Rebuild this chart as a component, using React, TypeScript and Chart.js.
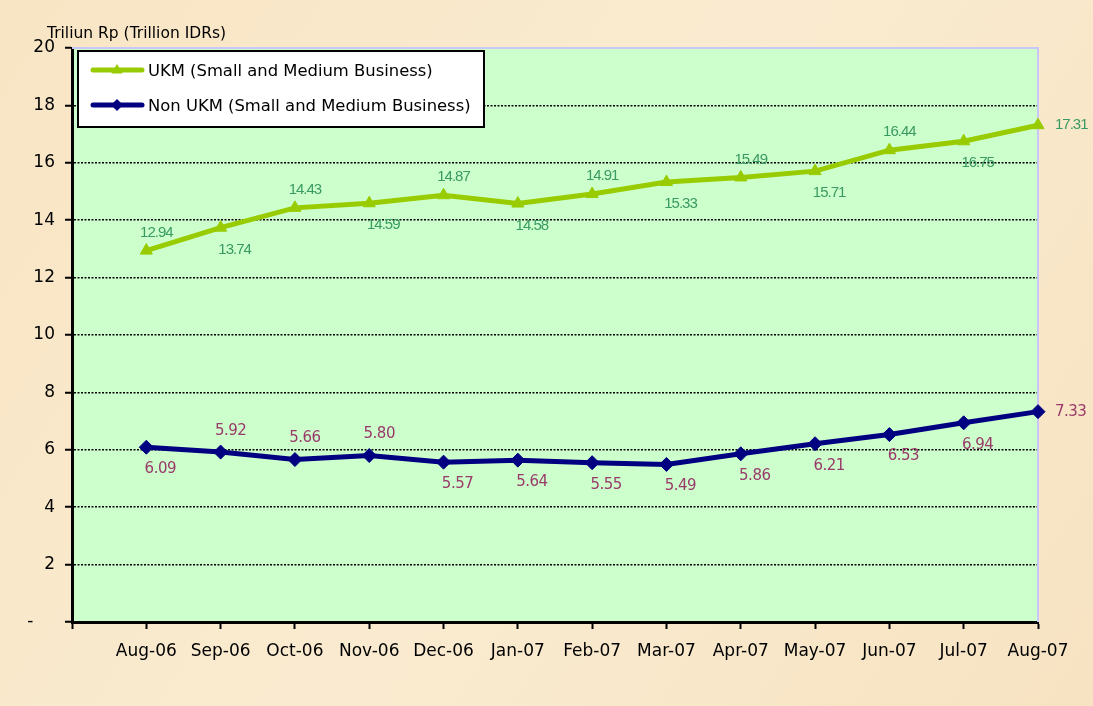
import React, { useEffect, useRef } from "react";
import { Chart, registerables } from "chart.js";

Chart.register(...registerables);

const categories = ["", "Aug-06", "Sep-06", "Oct-06", "Nov-06", "Dec-06", "Jan-07", "Feb-07", "Mar-07", "Apr-07", "May-07", "Jun-07", "Jul-07", "Aug-07"];
const ukmValues = [null, 12.94, 13.74, 14.43, 14.59, 14.87, 14.58, 14.91, 15.33, 15.49, 15.71, 16.44, 16.75, 17.31];
const nonUkmValues = [null, 6.09, 5.92, 5.66, 5.8, 5.57, 5.64, 5.55, 5.49, 5.86, 6.21, 6.53, 6.94, 7.33];
const ukmLabelPos = ["", "above", "below", "above", "below", "above", "below", "above", "below", "above", "below", "above", "below", "right"];
const nonUkmLabelPos = ["", "below", "above", "above", "above", "below", "below", "below", "below", "below", "below", "below", "below", "right"];
const yTicks = [0, 2, 4, 6, 8, 10, 12, 14, 16, 18, 20];
const seriesNames = ["UKM (Small and Medium Business)", "Non UKM (Small and Medium Business)"];
const axisTitle = "Triliun Rp (Trillion IDRs)";

const UKM_COLOR = "#99CC00";
const NON_COLOR = "#000080";
const UKM_LABEL = "#3A9A63";
const NON_LABEL = "#9A3A6A";

function drawMarker(ctx: CanvasRenderingContext2D, style: string, x: number, y: number, r: number, color: string) {
  ctx.save();
  ctx.fillStyle = color;
  ctx.beginPath();
  if (style === "triangle") {
    ctx.moveTo(x, y - r);
    ctx.lineTo(x + r * 0.95, y + r * 0.6);
    ctx.lineTo(x - r * 0.95, y + r * 0.6);
  } else {
    ctx.moveTo(x, y - r);
    ctx.lineTo(x + r, y);
    ctx.lineTo(x, y + r);
    ctx.lineTo(x - r, y);
  }
  ctx.closePath();
  ctx.fill();
  ctx.restore();
}

const decorPlugin = {
  id: "decor",
  beforeDraw(chart: any) {
    const { ctx, chartArea: a, width, height } = chart;
    ctx.save();
    const g = ctx.createLinearGradient(0, 0, width, height);
    g.addColorStop(0, "#F8E5C4");
    g.addColorStop(0.5, "#FAEBD0");
    g.addColorStop(1, "#F7E3C2");
    ctx.fillStyle = g;
    ctx.fillRect(0, 0, width, height);
    ctx.fillStyle = "#CCFFCC";
    ctx.fillRect(a.left, a.top, a.right - a.left, a.bottom - a.top);
    ctx.restore();
  },
  beforeDatasetsDraw(chart: any) {
    const { ctx, chartArea: a } = chart;
    ctx.save();
    ctx.strokeStyle = "#C8C8F8";
    ctx.lineWidth = 2;
    ctx.beginPath();
    ctx.moveTo(a.left, a.top);
    ctx.lineTo(a.right, a.top);
    ctx.lineTo(a.right, a.bottom);
    ctx.stroke();
    ctx.restore();
  },
  afterDatasetsDraw(chart: any) {
    const { ctx } = chart;
    const specs = [
      { pos: ukmLabelPos, values: ukmValues, color: UKM_LABEL, font: "15px 'Liberation Sans'", spacing: "-1px", up: -18, down: 22 },
      { pos: nonUkmLabelPos, values: nonUkmValues, color: NON_LABEL, font: "15px 'DejaVu Sans'", spacing: "-0.5px", up: -21, down: 22 },
    ];
    specs.forEach((s, di) => {
      const meta = chart.getDatasetMeta(di);
      ctx.save();
      ctx.font = s.font;
      (ctx as any).letterSpacing = s.spacing;
      ctx.fillStyle = s.color;
      ctx.textBaseline = "middle";
      meta.data.forEach((el: any, i: number) => {
        const v = s.values[i];
        if (v === null || v === undefined) return;
        const txt = v.toFixed(2);
        const p = s.pos[i];
        if (p === "right") {
          ctx.textAlign = "left";
          ctx.fillText(txt, el.x + 17, el.y);
        } else if (p === "above") {
          ctx.textAlign = "center";
          ctx.fillText(txt, el.x + 10, el.y + s.up);
        } else {
          ctx.textAlign = "center";
          ctx.fillText(txt, el.x + 14, el.y + s.down);
        }
      });
      ctx.restore();
    });
  },
  afterDraw(chart: any) {
    const { ctx } = chart;
    ctx.save();
    ctx.font = "15.5px 'DejaVu Sans'";
    ctx.fillStyle = "#000";
    ctx.textAlign = "left";
    ctx.textBaseline = "middle";
    ctx.fillText(axisTitle, 47, 34);
    const bx = 78, by = 51, bw = 406, bh = 76;
    ctx.fillStyle = "#FFFFFF";
    ctx.fillRect(bx, by, bw, bh);
    ctx.strokeStyle = "#000";
    ctx.lineWidth = 2;
    ctx.strokeRect(bx, by, bw, bh);
    const rows = [
      { y: 70, color: UKM_COLOR, style: "triangle", name: seriesNames[0] },
      { y: 105, color: NON_COLOR, style: "rectRot", name: seriesNames[1] },
    ];
    rows.forEach((r) => {
      ctx.strokeStyle = r.color;
      ctx.lineWidth = 5;
      ctx.lineCap = "round";
      ctx.beginPath();
      ctx.moveTo(93, r.y);
      ctx.lineTo(142, r.y);
      ctx.stroke();
      drawMarker(ctx, r.style, 117, r.y, 6, r.color);
      ctx.fillStyle = "#000";
      ctx.font = "16.4px 'DejaVu Sans'";
      ctx.textAlign = "left";
      ctx.textBaseline = "middle";
      ctx.fillText(r.name, 148, r.y + 2);
    });
    ctx.restore();
  },
};

export default function App() {
  const ref = useRef<HTMLCanvasElement>(null);
  useEffect(() => {
    if (!ref.current) return;
    const chart = new Chart(ref.current, {
      type: "line",
      data: {
        labels: categories,
        datasets: [
          {
            label: seriesNames[0],
            data: ukmValues as any,
            borderColor: UKM_COLOR,
            backgroundColor: UKM_COLOR,
            borderWidth: 5,
            pointStyle: "triangle",
            pointRadius: 7,
            pointBackgroundColor: UKM_COLOR,
            pointBorderColor: UKM_COLOR,
            pointBorderWidth: 1,
            tension: 0,
            clip: false as any,
          },
          {
            label: seriesNames[1],
            data: nonUkmValues as any,
            borderColor: NON_COLOR,
            backgroundColor: NON_COLOR,
            borderWidth: 5,
            pointStyle: "rectRot",
            pointRadius: 7,
            pointBackgroundColor: NON_COLOR,
            pointBorderColor: NON_COLOR,
            pointBorderWidth: 1,
            tension: 0,
            clip: false as any,
          },
        ],
      },
      options: {
        responsive: false,
        animation: false,
        devicePixelRatio: 1,
        layout: { padding: { top: 48, right: 55, left: 0, bottom: 0 } },
        plugins: { legend: { display: false }, tooltip: { enabled: false }, title: { display: false } },
        scales: {
          x: {
            type: "category",
            offset: false,
            grid: { drawOnChartArea: false, drawTicks: true, tickLength: 7, color: "#000", tickColor: "#000", tickWidth: 2 },
            border: { color: "#000", width: 3 },
            ticks: { autoSkip: false, maxRotation: 0, minRotation: 0, color: "#000", font: { family: "'DejaVu Sans'", size: 17 }, padding: 12 },
            afterFit: (s: any) => { s.height = 84; },
          },
          y: {
            min: 0,
            max: 20,
            afterBuildTicks: (s: any) => { s.ticks = yTicks.map((v) => ({ value: v })); },
            grid: {
              drawOnChartArea: true,
              drawTicks: true,
              tickLength: 7,
              lineWidth: 1.5,
              color: (c: any) => (c.tick && (c.tick.value === 0 || c.tick.value === 20) ? "rgba(0,0,0,0)" : "#000"),
              tickColor: "#000",
              tickWidth: 2,
              tickBorderDash: [],
            },
            border: { color: "#000", width: 3, dash: [2, 1.5] },
            ticks: {
              color: "#000",
              font: { family: "'DejaVu Sans'", size: 17 },
              padding: 10,
              callback: (v: any) => (Number(v) === 0 ? "-    " : String(v)),
            },
            afterFit: (s: any) => { s.width = 72; },
          },
        },
      },
      plugins: [decorPlugin],
    });
    return () => chart.destroy();
  }, []);
  return (
    <div style={{ position: "absolute", left: 0, top: 0, width: 1093, height: 706 }}>
      <canvas ref={ref} width={1093} height={706} style={{ display: "block" }} />
    </div>
  );
}
